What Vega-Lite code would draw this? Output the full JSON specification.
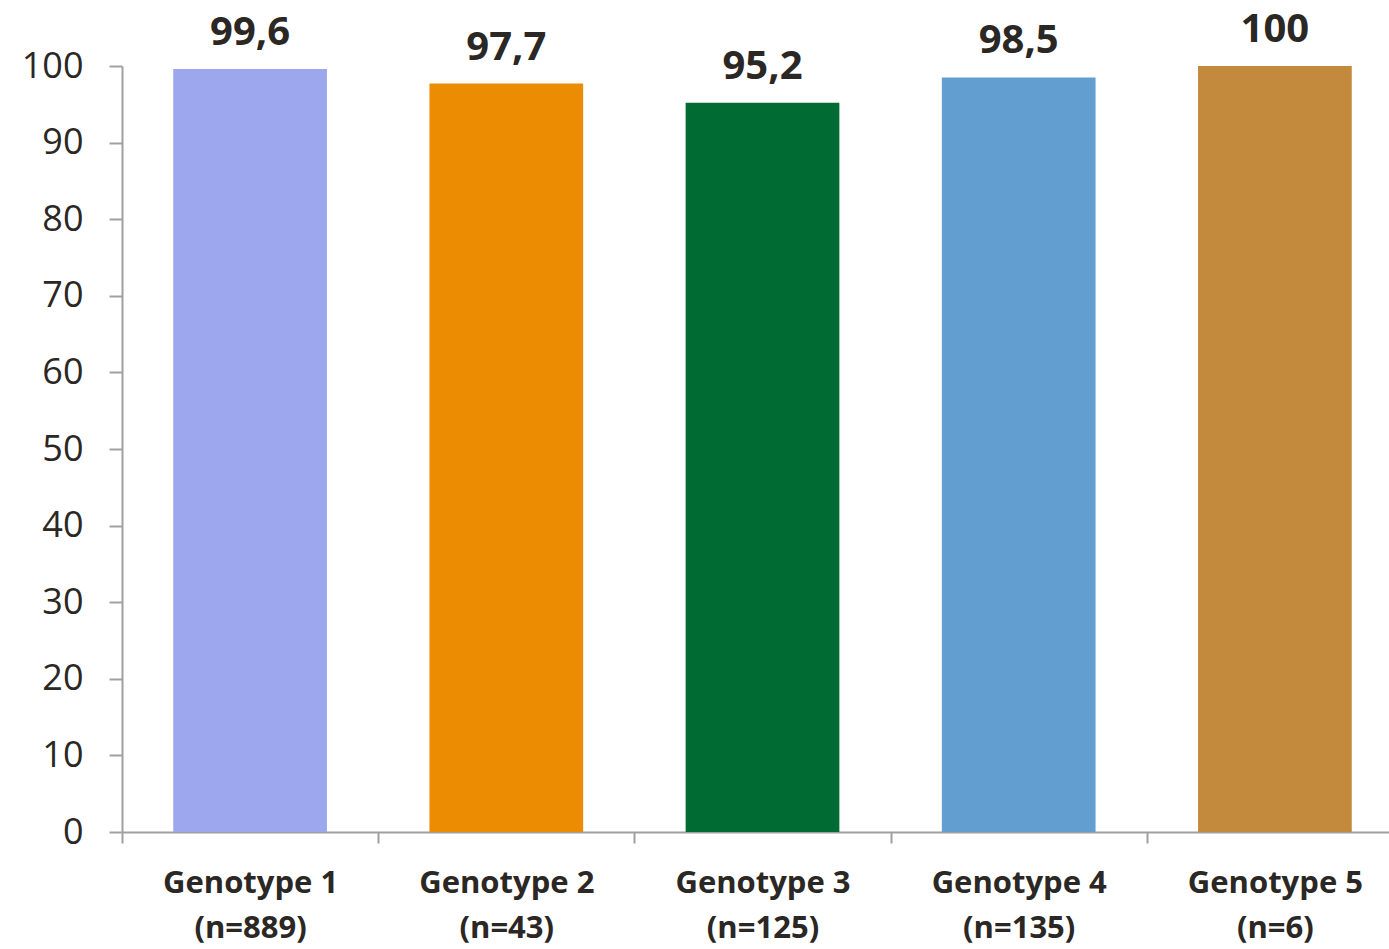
{
  "$schema": "https://vega.github.io/schema/vega-lite/v6.json",
  "width": 1281,
  "height": 766,
  "autosize": {"type": "none"},
  "padding": {"left": 122, "top": 66, "right": 0, "bottom": 117},
  "background": "white",
  "config": {
    "view": {"stroke": null},
    "font": "Open Sans",
    "locale": {
      "number": {"decimal": ",", "thousands": ".", "grouping": [3], "currency": ["", " €"]}
    }
  },
  "data": {
    "values": [
      {"genotype": "Genotype 1 (n=889)", "pct": 99.6, "color": "#9DA7EE"},
      {"genotype": "Genotype 2 (n=43)", "pct": 97.7, "color": "#EB8C03"},
      {"genotype": "Genotype 3 (n=125)", "pct": 95.2, "color": "#006B33"},
      {"genotype": "Genotype 4 (n=135)", "pct": 98.5, "color": "#629ED0"},
      {"genotype": "Genotype 5 (n=6)", "pct": 100, "color": "#C3893D"}
    ]
  },
  "encoding": {
    "x": {
      "field": "genotype",
      "type": "nominal",
      "sort": null,
      "scale": {"paddingInner": 0, "paddingOuter": 0},
      "axis": {
        "title": null,
        "labelAngle": 0,
        "labelExpr": "datum.label ? [split(datum.label, ' (')[0], '(' + split(datum.label, ' (')[1]] : ''",
        "labelFont": "Open Sans",
        "labelFontWeight": "bold",
        "labelFontSize": 31,
        "labelLineHeight": 45,
        "labelColor": "#2B2724",
        "labelPadding": 25,
        "tickBand": "extent",
        "tickSize": 11,
        "tickColor": "#A0A0A0",
        "tickWidth": 2,
        "domainColor": "#A0A0A0",
        "domainWidth": 2
      }
    },
    "y": {
      "field": "pct",
      "type": "quantitative",
      "scale": {"domain": [0, 100]},
      "axis": {
        "title": null,
        "grid": false,
        "values": [0, 10, 20, 30, 40, 50, 60, 70, 80, 90, 100],
        "labelFont": "Open Sans",
        "labelFontSize": 36,
        "labelColor": "#2B2724",
        "labelPadding": 26,
        "tickSize": 13,
        "tickColor": "#A0A0A0",
        "tickWidth": 2,
        "domainColor": "#A0A0A0",
        "domainWidth": 2
      }
    }
  },
  "layer": [
    {
      "mark": {"type": "bar", "width": {"band": 0.6}},
      "encoding": {
        "color": {"field": "color", "type": "nominal", "scale": null}
      }
    },
    {
      "mark": {
        "type": "text",
        "baseline": "alphabetic",
        "dy": -24,
        "font": "Open Sans",
        "fontWeight": "bold",
        "fontSize": 40,
        "color": "#2B2724"
      },
      "encoding": {
        "text": {"field": "pct", "type": "quantitative", "format": "~g"}
      }
    }
  ]
}
